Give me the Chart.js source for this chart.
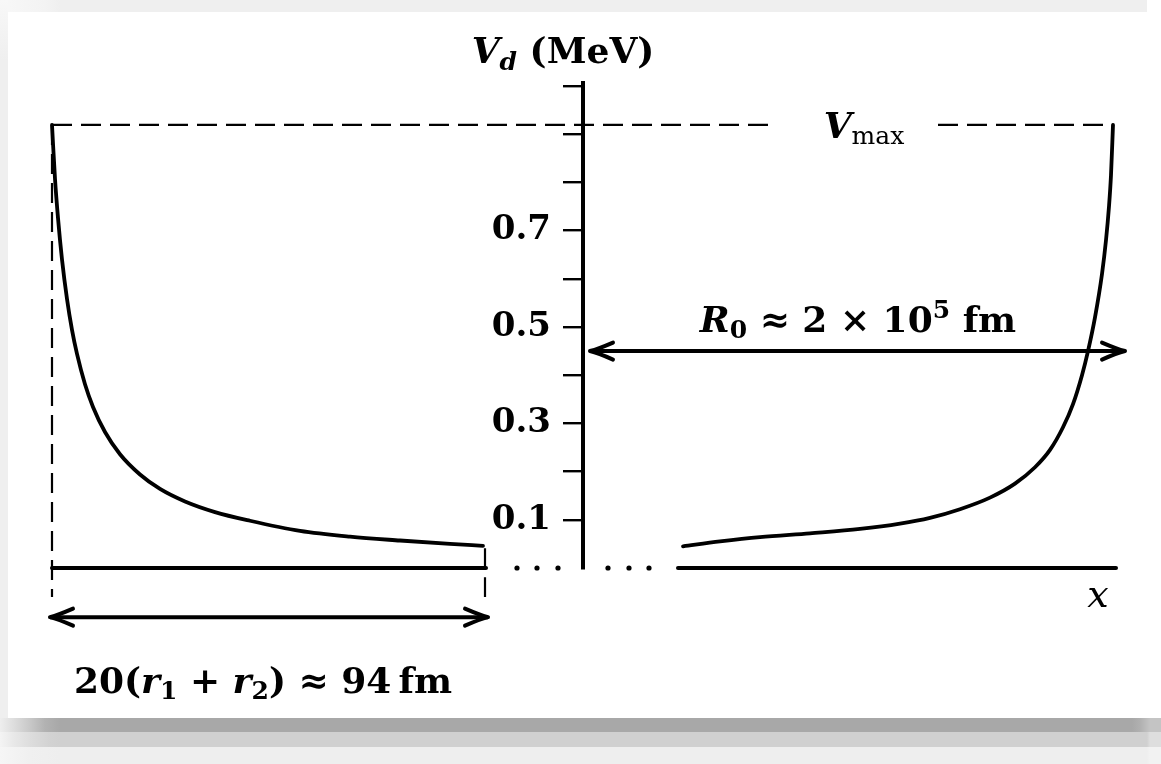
<!DOCTYPE html>
<html>
<head>
<meta charset="utf-8">
<script src="https://cdn.jsdelivr.net/npm/chart.js@4.4.0/dist/chart.umd.min.js"></script>
<style>
  html, body { margin: 0; padding: 0; }
  body { width: 1161px; height: 764px; position: relative; overflow: hidden; background: #fff; }
  .band { position: absolute; }
  #top { left: 0; top: 0; width: 1147px; height: 12px;
    background: linear-gradient(to right, #f8f8f8 0, #f3f3f3 45px, #efefef 60px, #efefef 100%); }
  #left { left: 0; top: 0; width: 8px; height: 718px;
    background: linear-gradient(to bottom, #f8f8f8 0, #efefef 60px, #efefef 100%); }
  #sh1 { left: 0; top: 718px; width: 1161px; height: 14px;
    background: linear-gradient(to right, #eeeeee 0, #dddddd 14px, #c8c8c8 30px, #b2b2b2 45px, #a8a8a8 60px, #a8a8a8 1132px, #b0b0b0 1140px, #c4c4c4 1150px, #c4c4c4 100%); }
  #sh2 { left: 0; top: 732px; width: 1161px; height: 15px;
    background: linear-gradient(to right, #f4f4f4 0, #e8e8e8 14px, #dddddd 30px, #d2d2d2 50px, #d0d0d0 60px, #d0d0d0 1147px, #dedede 1150px, #dedede 100%); }
  #sh3 { left: 0; top: 747px; width: 1161px; height: 17px;
    background: linear-gradient(to right, #f6f6f6 0, #f0f0f0 30px, #eeeeee 60px, #eeeeee 1147px, #f2f2f2 1150px, #f2f2f2 100%); }
  canvas { position: absolute; left: 0; top: 0; }
</style>
</head>
<body>
<div class="band" id="top"></div>
<div class="band" id="left"></div>
<div class="band" id="sh1"></div>
<div class="band" id="sh2"></div>
<div class="band" id="sh3"></div>
<canvas id="pot" width="1161" height="764"></canvas>
<script>
// V axis ticks (MeV)
const yTickValues = [0.1, 0.2, 0.3, 0.4, 0.5, 0.6, 0.7, 0.8, 0.9, 1.0];
const yTickLabels = ["0.1", "", "0.3", "", "0.5", "", "0.7", "", "", ""];

// short-range side: potential near contact (x in plot units, V in MeV)
const leftX = [-53.1, -52.8, -52.5, -52.1, -51.6, -51.1, -50.6, -49.8, -49.0, -47.8, -46.3,
  -44.3, -42.3, -39.8, -36.8, -33.3, -28.3, -23.3, -18.3, -13.3, -10.0];
const leftV = [0.919, 0.807, 0.726, 0.640, 0.558, 0.494, 0.444, 0.381, 0.334, 0.282, 0.236,
  0.194, 0.164, 0.138, 0.116, 0.098, 0.077, 0.065, 0.057, 0.050, 0.046];

// long-range side, out to R0
const rightX = [10.0, 13.7, 17.7, 22.7, 27.7, 31.7, 34.7, 37.7, 40.7, 43.2, 45.2,
  46.7, 48.0, 49.0, 49.9, 50.5, 51.2, 51.9, 52.3, 52.6, 52.8, 53.0];
const rightV = [0.045, 0.055, 0.064, 0.072, 0.081, 0.092, 0.104, 0.122, 0.146, 0.175, 0.209,
  0.245, 0.292, 0.340, 0.400, 0.450, 0.520, 0.610, 0.680, 0.750, 0.815, 0.919];

// V_max level and the guide lines
const vMax = 0.919;
const vmaxLeftX = [-53.1, 19.4];
const vmaxRightX = [35.5, 53.0];
const wallX = -53.1;
const wallDashV = [0.919, -0.06];
const innerX = -9.8;
const innerDashV = [0.041, -0.06];
const baseLeftX = [-53.1, -9.7];
const baseRightX = [9.5, 53.3];
const dotsX = [-6.6, -4.6, -2.5, 2.5, 4.6, 6.6];

// span arrows
const r0ArrowX = [0.7, 54.2];
const r0ArrowV = 0.45;
const rangeArrowX = [-53.3, -9.5];
const rangeArrowV = -0.102;

function pts(xs, vs) {
  return xs.map((x, i) => ({ x: x, y: Array.isArray(vs) ? vs[i] : vs }));
}
function vline(x, vs) {
  return vs.map(v => ({ x: x, y: v }));
}

function line(data, width, dash, extra) {
  return Object.assign({
    data: data,
    borderColor: "#000",
    backgroundColor: "#000",
    borderWidth: width,
    borderDash: dash || [],
    borderCapStyle: "butt",
    pointRadius: 0,
    fill: false,
    tension: 0,
    clip: false
  }, extra || {});
}

const datasets = [
  line(pts(vmaxLeftX, vMax), 2.2, [20, 9]),
  line(pts(vmaxRightX, vMax), 2.2, [20, 9]),
  line(vline(wallX, wallDashV), 2.2, [20, 9]),
  line(vline(innerX, innerDashV), 2.2, [20, 9]),
  line(pts(baseLeftX, 0), 4, null, { borderCapStyle: "round" }),
  line(pts(baseRightX, 0), 4, null, { borderCapStyle: "round" }),
  line(pts(leftX, leftV), 3.8, null, { cubicInterpolationMode: "monotone", borderCapStyle: "round" }),
  line(pts(rightX, rightV), 3.8, null, { cubicInterpolationMode: "monotone", borderCapStyle: "round" }),
  line(pts(r0ArrowX, r0ArrowV), 4, null, { arrowHeads: true }),
  line(pts(rangeArrowX, rangeArrowV), 4, null, { arrowHeads: true })
];

// ellipsis dots on the x axis: zero-length round-capped strokes, so they
// still show outside the chart area
dotsX.forEach(x => {
  datasets.push(line(pts([x, x + 0.01], 0), 5.2, null, { borderCapStyle: "round" }));
});

// chevron heads on both ends of the span arrows
const arrowPlugin = {
  id: "arrowHeads",
  afterDatasetsDraw(chart) {
    const ctx = chart.ctx;
    chart.data.datasets.forEach((ds, i) => {
      if (!ds.arrowHeads) return;
      const pts = chart.getDatasetMeta(i).data;
      const a = pts[0], b = pts[pts.length - 1];
      ctx.save();
      ctx.strokeStyle = "#000";
      ctx.lineWidth = 4;
      ctx.lineCap = "round";
      ctx.lineJoin = "round";
      [[a, 1], [b, -1]].forEach(([p, dir]) => {
        ctx.beginPath();
        ctx.moveTo(p.x + dir * 23, p.y - 8.5);
        ctx.quadraticCurveTo(p.x + dir * 8, p.y - 2, p.x, p.y);
        ctx.quadraticCurveTo(p.x + dir * 8, p.y + 2, p.x + dir * 23, p.y + 8.5);
        ctx.stroke();
      });
      ctx.restore();
    });
  }
};

const BF = 'bold 36px "DejaVu Serif"';
const BI = 'italic bold 36px "DejaVu Serif"';
const SB = 'bold 25px "DejaVu Serif"';
const SBI = 'italic bold 25px "DejaVu Serif"';
const SR = '25px "DejaVu Serif"';

function drawRuns(ctx, runs, cx, y) {
  let w = 0;
  runs.forEach(r => { ctx.font = r.f; r.w = ctx.measureText(r.t).width; w += r.w; });
  let x = cx - w / 2;
  runs.forEach(r => {
    ctx.font = r.f;
    ctx.fillText(r.t, x, y + (r.dy || 0));
    x += r.w;
  });
}

const labelPlugin = {
  id: "mathLabels",
  afterDraw(chart) {
    const ctx = chart.ctx;
    const xs = chart.scales.x, ys = chart.scales.y;
    const at = (x, v) => [xs.getPixelForValue(x), ys.getPixelForValue(v)];
    ctx.save();
    ctx.fillStyle = "#000";
    ctx.textBaseline = "alphabetic";
    let p;
    p = at(-2.0, 1.048);
    drawRuns(ctx, [{ t: "V", f: BI }, { t: "d", f: SBI, dy: 7 }, { t: " (MeV)", f: BF }], p[0], p[1]);
    p = at(28.1, 0.892);
    drawRuns(ctx, [{ t: "V", f: BI }, { t: "max", f: SR, dy: 6 }], p[0], p[1]);
    p = at(27.5, 0.49);
    drawRuns(ctx, [{ t: "R", f: BI }, { t: "0", f: SB, dy: 6 }, { t: " \u2248 2 \u00d7 10", f: BF },
      { t: "5", f: SB, dy: -14 }, { t: " fm", f: BF }], p[0], p[1]);
    p = at(-32.0, -0.259);
    drawRuns(ctx, [{ t: "20(", f: BF }, { t: "r", f: BI }, { t: "1", f: SB, dy: 6 }, { t: " + ", f: BF },
      { t: "r", f: BI }, { t: "2", f: SB, dy: 6 }, { t: ") \u2248 94\u2009fm", f: BF }], p[0], p[1]);
    p = at(51.5, -0.081);
    drawRuns(ctx, [{ t: "x", f: 'italic 38px "DejaVu Serif"' }], p[0], p[1]);
    ctx.restore();
  }
};

new Chart(document.getElementById("pot"), {
  type: "line",
  data: { datasets: datasets },
  options: {
    responsive: false,
    animation: false,
    events: [],
    layout: { padding: { left: 0, top: 83, right: 28, bottom: 196 } },
    plugins: { legend: { display: false }, tooltip: { enabled: false } },
    scales: {
      x: {
        type: "linear",
        display: false,
        bounds: "data",
        // range set after data limits so points left of the V axis are still drawn
        afterDataLimits: scale => { scale.min = 0; scale.max = 55; }
      },
      y: {
        type: "linear",
        position: "left",
        min: 0,
        max: 1.006,
        afterBuildTicks: scale => { scale.ticks = yTickValues.map(v => ({ value: v })); },
        afterFit: scale => { scale.width = 583; },
        border: { display: true, color: "#000", width: 4 },
        grid: { display: true, drawOnChartArea: false, drawTicks: true, tickLength: 20, color: "#000", lineWidth: 2.4 },
        ticks: {
          padding: 12,
          color: "#000",
          font: { family: "DejaVu Serif", weight: "bold", size: 34 },
          callback: (v, i) => yTickLabels[i]
        }
      }
    }
  },
  plugins: [arrowPlugin, labelPlugin]
});
</script>
</body>
</html>
